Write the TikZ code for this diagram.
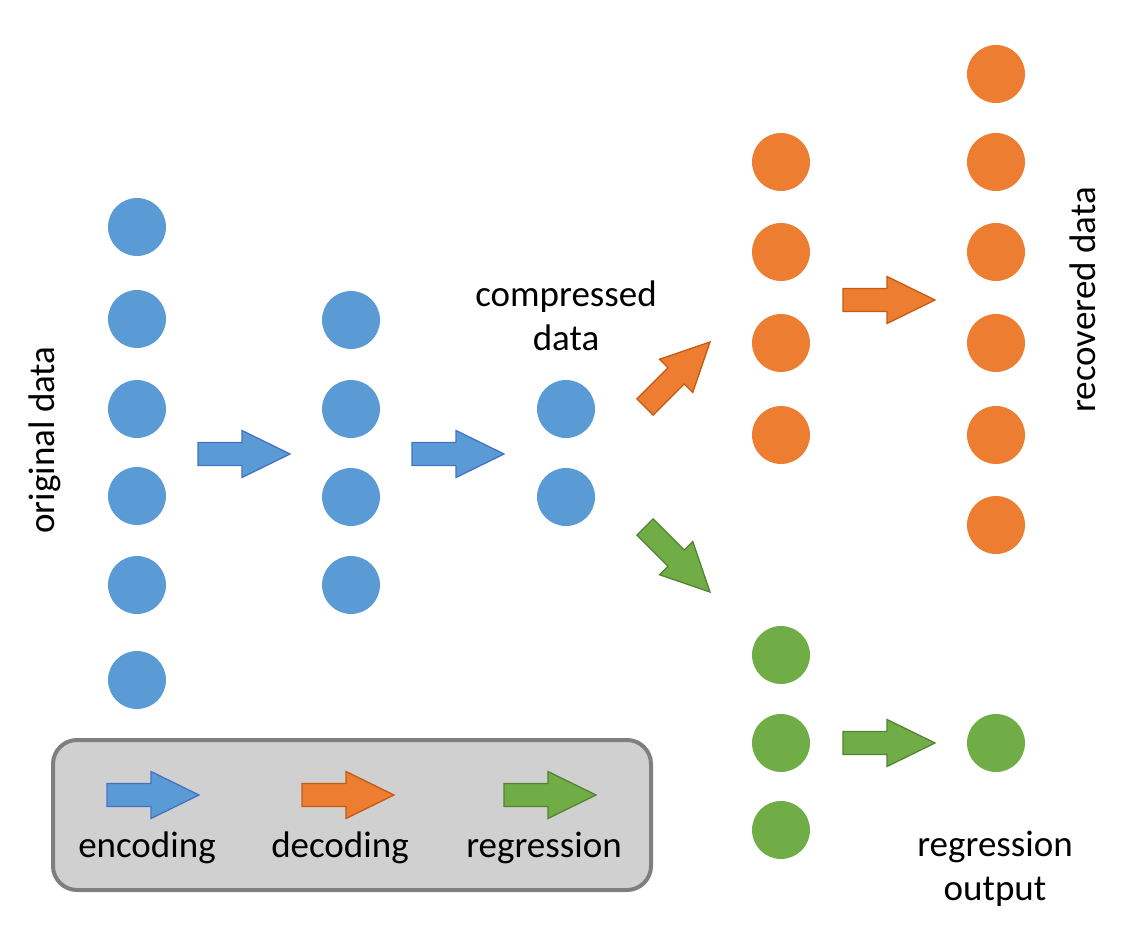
\documentclass[tikz,border=0pt]{standalone}
\usepackage{fontspec}
\setmainfont{Carlito}
\definecolor{cblue}{HTML}{5B9BD5}
\definecolor{cbluel}{HTML}{4472C4}
\definecolor{corange}{HTML}{ED7D31}
\definecolor{corangel}{HTML}{C55A11}
\definecolor{cgreen}{HTML}{70AD47}
\definecolor{cgreenl}{HTML}{548235}
\definecolor{legfill}{HTML}{D0D0D0}
\definecolor{legline}{HTML}{7F7F7F}
\begin{document}
\begin{tikzpicture}[x=1pt,y=-1pt,
  neuron/.style={circle,minimum size=58pt,inner sep=0pt,draw=none},
  bneuron/.style={neuron,fill=cblue},
  oneuron/.style={neuron,fill=corange},
  gneuron/.style={neuron,fill=cgreen},
  lbl/.style={font=\fontsize{37}{44}\selectfont,align=center,inner sep=0pt},
  blkarrow/.pic={\path[pic actions] (0,-11.5) -- (44,-11.5) -- (44,-23.5) -- (92,0) -- (44,23.5) -- (44,11.5) -- (0,11.5) -- cycle;},
  encarrow/.style={fill=cblue,draw=cbluel,line width=1.3pt,line join=miter},
  decarrow/.style={fill=corange,draw=corangel,line width=1.3pt,line join=miter},
  regarrow/.style={fill=cgreen,draw=cgreenl,line width=1.3pt,line join=miter}]
\useasboundingbox (0,0) rectangle (1128,928);
% blue columns
\foreach \y [count=\i] in {227,319,409,496,585,680} \node[bneuron] (a\i) at (137,\y) {};
\foreach \y [count=\i] in {320,409,497,585} \node[bneuron] (b\i) at (351,\y) {};
\foreach \y [count=\i] in {409,497} \node[bneuron] (c\i) at (566,\y) {};
% orange columns
\foreach \y [count=\i] in {162,252,343,435} \node[oneuron] (d\i) at (781,\y) {};
\foreach \y [count=\i] in {74,162,252,343,435,525} \node[oneuron] (e\i) at (996,\y) {};
% green
\foreach \y [count=\i] in {655,743,830} \node[gneuron] (f\i) at (781,\y) {};
\node[gneuron] (g1) at (996,743) {};
% arrows
\pic[encarrow] at (198,454) {blkarrow};
\pic[encarrow] at (412,454) {blkarrow};
\pic[decarrow,rotate=45] at (645,407) {blkarrow};
\pic[regarrow,rotate=-45] at (645,527) {blkarrow};
\pic[decarrow] at (843,300) {blkarrow};
\pic[regarrow] at (843,743) {blkarrow};
% labels
\node[lbl,rotate=90] (orig) at (45,440) {original data};
\node[lbl] (comp) at (566,316) {compressed\\data};
\node[lbl,rotate=90] (rec) at (1083,300) {recovered data};
\node[lbl] (regout) at (995,869) {regression\\output};
% legend
\node[draw=legline,fill=legfill,line width=4pt,rounded corners=24pt,minimum width=598pt,minimum height=150pt] (legend) at (352,815) {};
\pic[encarrow] at (107,795) {blkarrow};
\pic[decarrow] at (302,795) {blkarrow};
\pic[regarrow] at (504,795) {blkarrow};
\node[lbl] (lenc) at (147,848) {encoding};
\node[lbl] (ldec) at (340,848) {decoding};
\node[lbl] (lreg) at (544,848) {regression};
\end{tikzpicture}
\end{document}
